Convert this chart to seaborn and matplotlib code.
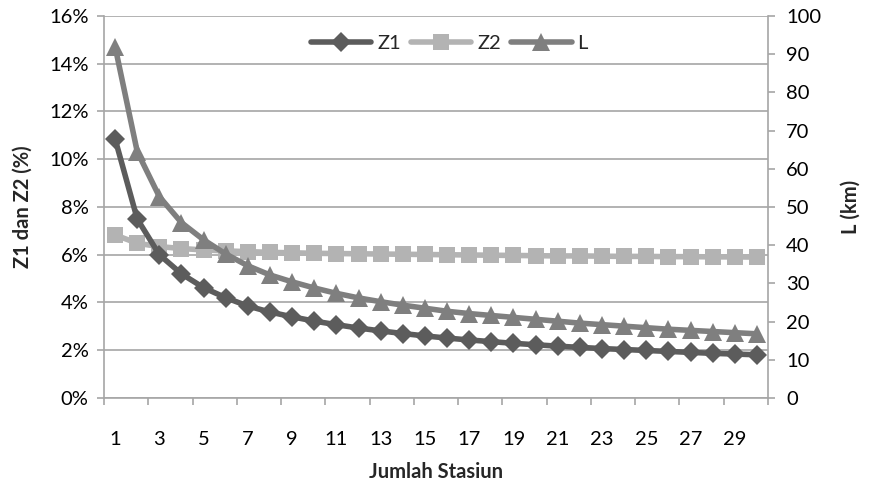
import matplotlib
matplotlib.use("Agg")
import matplotlib.pyplot as plt
import seaborn as sns
import pandas as pd
import numpy as np
from matplotlib.ticker import FixedLocator, FuncFormatter

stations = list(range(1, 31))
z1 = [10.85, 7.50, 6.00, 5.20, 4.62, 4.20, 3.85, 3.60, 3.40, 3.22, 3.07, 2.93, 2.81, 2.70,
      2.60, 2.51, 2.43, 2.36, 2.29, 2.23, 2.17, 2.12, 2.07, 2.03, 1.99, 1.95, 1.91, 1.87, 1.84, 1.81]
z2 = [6.83, 6.48, 6.34, 6.26, 6.20, 6.16, 6.13, 6.10, 6.08, 6.06, 6.05, 6.04, 6.03, 6.02,
      6.01, 6.00, 5.99, 5.98, 5.97, 5.96, 5.95, 5.95, 5.94, 5.93, 5.93, 5.92, 5.92, 5.91, 5.91, 5.90]
L = [92.0, 64.5, 52.7, 45.9, 41.4, 37.7, 34.6, 32.2, 30.4, 28.8, 27.4, 26.2, 25.2, 24.3,
     23.5, 22.7, 22.1, 21.6, 21.1, 20.6, 20.1, 19.6, 19.2, 18.8, 18.4, 18.0, 17.7, 17.4, 17.1, 16.8]

df = pd.DataFrame({"Jumlah Stasiun": stations, "Z1": z1, "Z2": z2, "L": L})

sns.set_theme(style="white")
plt.rcParams["font.family"] = ["Lato", "DejaVu Sans"]

fig = plt.figure(figsize=(8.69, 4.84), dpi=100)
ax = fig.add_axes([0.1197, 0.1777, 0.7641, 0.7893])
ax2 = ax.twinx()

c_z1 = "#5c5c5c"
c_z2 = "#b3b3b3"
c_l = "#7f7f7f"
grid_c = "#a6a6a6"
fs = 14.5

sns.lineplot(data=df, x="Jumlah Stasiun", y="Z2", ax=ax, color=c_z2, lw=4,
             marker="s", markersize=11, markeredgewidth=0, label="Z2", legend=False, zorder=3)
sns.lineplot(data=df, x="Jumlah Stasiun", y="Z1", ax=ax, color=c_z1, lw=4,
             marker="D", markersize=10, markeredgewidth=0, label="Z1", legend=False, zorder=4)
sns.lineplot(data=df, x="Jumlah Stasiun", y="L", ax=ax2, color=c_l, lw=4,
             marker="^", markersize=13, markeredgewidth=0, label="L", legend=False, zorder=5)

ax.set_xlim(0.5, 30.5)
ax.set_ylim(0, 16)
ax2.set_ylim(0, 100)

ax.set_yticks(np.arange(0, 17, 2))
ax.yaxis.set_major_formatter(FuncFormatter(lambda v, p: f"{int(v)}%"))
ax2.set_yticks(np.arange(0, 101, 10))

ax.xaxis.set_major_locator(FixedLocator(np.arange(0.5, 31, 2)))
ax.xaxis.set_major_formatter(FuncFormatter(lambda v, p: ""))
ax.xaxis.set_minor_locator(FixedLocator(stations[::2]))
ax.xaxis.set_minor_formatter(FuncFormatter(lambda v, p: f"{int(round(v))}"))

ax.grid(axis="y", color=grid_c, lw=1.2)
ax.set_axisbelow(True)

for a in (ax, ax2):
    for s in a.spines.values():
        s.set_visible(False)
    for side in ("left", "bottom", "right"):
        a.spines[side].set_color(grid_c)
        a.spines[side].set_linewidth(1.2)
ax.spines["left"].set_visible(True)
ax.spines["bottom"].set_visible(True)
ax2.spines["right"].set_visible(True)

ax.tick_params(axis="y", which="major", direction="out", length=5, width=1.2, color=grid_c,
               labelsize=fs, pad=6, labelcolor="#000000", left=True)
ax.tick_params(axis="x", which="major", direction="out", length=5, width=1.2, color=grid_c, bottom=True)
ax.tick_params(axis="x", which="minor", length=0, labelsize=fs, pad=24, labelcolor="#000000", bottom=True)
ax2.tick_params(axis="y", direction="out", length=5, width=1.2, color=grid_c,
                labelsize=fs, pad=8, labelcolor="#000000", right=True)

ax.set_xlabel("Jumlah Stasiun", fontsize=fs, fontweight="bold", labelpad=10)
ax.set_ylabel("Z1 dan Z2 (%)", fontsize=fs, fontweight="bold", labelpad=12)
ax2.set_ylabel("L (km)", fontsize=fs, fontweight="bold", labelpad=14)

h1, l1 = ax.get_legend_handles_labels()
h2, l2 = ax2.get_legend_handles_labels()
hd = dict(zip(l1 + l2, h1 + h2))
order = ["Z1", "Z2", "L"]
leg = ax2.legend([hd[k] for k in order], order, loc="center", bbox_to_anchor=(0.52, 0.927),
                 ncol=3, frameon=False, fontsize=fs, handlelength=3.0, columnspacing=0.5,
                 handletextpad=0.3)

fig.savefig("out.png", dpi=100)
